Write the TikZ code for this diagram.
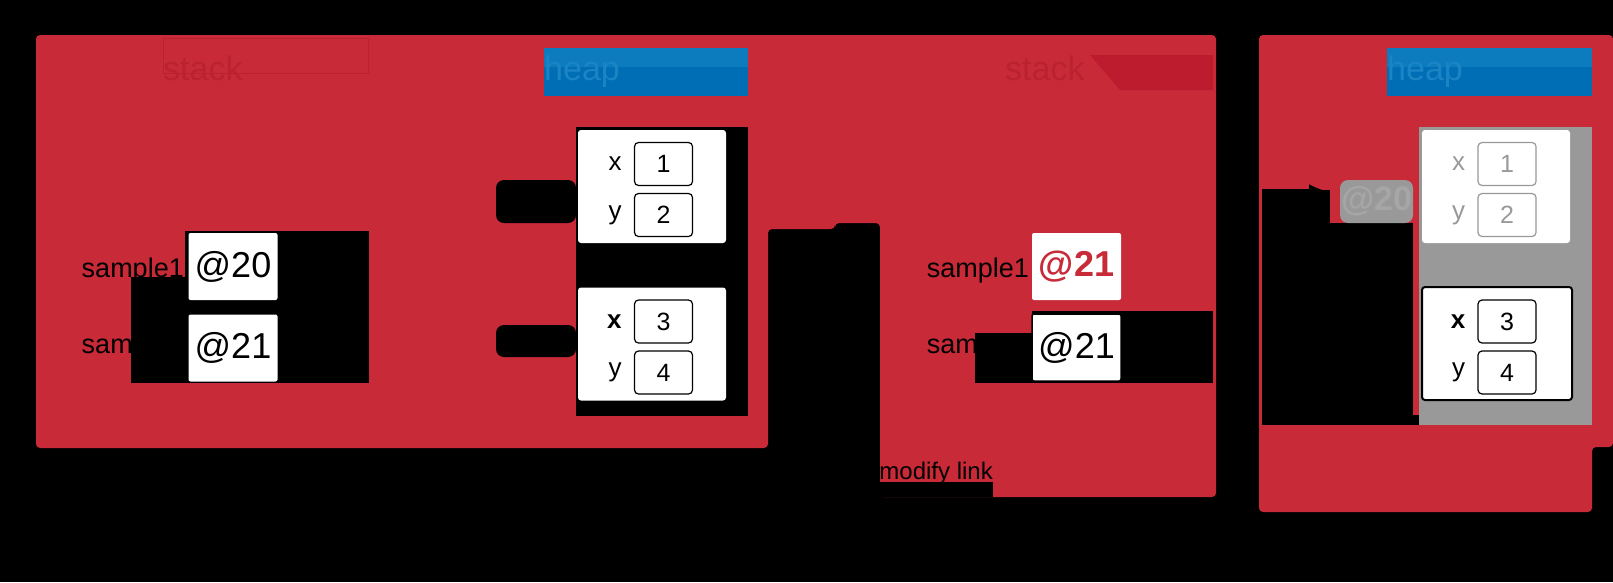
\documentclass[tikz,border=0pt]{standalone}
\usepackage{fontspec}
\setmainfont{Liberation Sans}
\usetikzlibrary{positioning}

\definecolor{panelred}{RGB}{200,42,56}
\definecolor{deepred}{RGB}{188,28,46}
\definecolor{ghostred}{RGB}{186,34,48}
\definecolor{heapblue}{RGB}{0,110,181}
\definecolor{lightblue}{RGB}{12,124,190}
\definecolor{ghostblue}{RGB}{26,132,196}
\definecolor{garbage}{RGB}{153,153,153}

\begin{document}
\begin{tikzpicture}[x=1pt,y=-1pt,>=latex,
  addr/.style={fill=white,rounded corners=2pt,minimum width=89pt,minimum height=67pt,inner sep=0pt,font=\fontsize{36}{36}\selectfont},
  obj/.style={fill=white,rounded corners=3pt,minimum width=148pt,minimum height=113pt,inner sep=0pt},
  slot/.style={draw,rounded corners=4pt,line width=1.2pt,minimum width=58pt,minimum height=43pt,inner sep=0pt,font=\fontsize{25}{25}\selectfont},
  fld/.style={font=\fontsize{26}{26}\selectfont,inner sep=0pt},
  var/.style={font=\fontsize{27}{27}\selectfont,anchor=base east,inner sep=0pt},
  ref/.style={fill=black,rounded corners=8pt,minimum width=80pt,minimum height=43pt,inner sep=0pt,font=\bfseries\fontsize{34}{34}\selectfont},
  title/.style={font=\fontsize{34}{34}\selectfont,anchor=base west,inner sep=0pt}]
  \useasboundingbox (0,0) rectangle (1613,582);
  \fill[black] (0,0) rectangle (1613,582);

  % panels
  \fill[panelred,rounded corners=4pt] (36,448) -- (36,35) -- (1216,35) -- (1216,497) -- (880,497) -- (880,223) -- (835,223) -- (835,229) -- (768,229) -- (768,448) -- cycle;
  \fill[panelred,rounded corners=4pt] (1259,512) -- (1259,35) -- (1613,35) -- (1613,447) -- (1592,447) -- (1592,512) -- cycle;

  % headers
  \draw[ghostred,line width=0.8pt] (163,38) rectangle (368,73);
  \node[title,text=ghostred] (stackL) at (163,80) {stack};
  \fill[deepred] (1090,55) -- (1213,55) -- (1213,90) -- (1120,90) -- cycle;
  \node[title,text=ghostred] (stackR) at (1005,80) {stack};
  \fill[heapblue] (544,48) rectangle (748,96);
  \fill[lightblue] (544,48) rectangle (748,67);
  \node[title,text=ghostblue] (heapL) at (544,80) {heap};
  \fill[heapblue] (1387,48) rectangle (1592,96);
  \fill[lightblue] (1387,48) rectangle (1592,67);
  \node[title,text=ghostblue] (heapR) at (1387,80) {heap};

  % left stack
  \fill[black] (131,277) rectangle (185,383);
  \fill[black] (185,231) rectangle (369,383);
  \node[var] (s1L) at (184,277) {sample1};
  \node[var] (s2L) at (184,353) {sample2};
  \node[addr] (a1L) at (233,266.5) {@20};
  \node[addr] (a2L) at (233,348) {@21};

  % left heap
  \fill[black] (576,127) rectangle (748,416);
  \node[ref] (r20) at (536,201.5) {@20};
  \node[ref,minimum height=32pt] (r21) at (536,341) {@21};
  \node[obj] (o1L) at (652,186.5) {};
  \node[obj] (o2L) at (652,344) {};
  \node[slot] (x1L) at (663.5,164) {1};
  \node[slot] (y1L) at (663.5,215) {2};
  \node[slot] (x2L) at (663.5,321.5) {3};
  \node[slot] (y2L) at (663.5,372.5) {4};
  \node[fld,left=12pt of x1L] {x};
  \node[fld,left=12pt of y1L] {y};
  \node[fld,left=12pt of x2L] {\textbf{x}};
  \node[fld,left=12pt of y2L] {y};

  % middle
  \node[font=\fontsize{24}{24}\selectfont,anchor=base east,inner sep=0pt] (link) at (993,479) {modify link};
  \fill[black] (880,482) rectangle (993,497);

  % right stack
  \fill[black] (975,333) rectangle (1032,383);
  \fill[black] (1032,311) rectangle (1213,383);
  \node[var] (s1R) at (1029,277) {sample1};
  \node[var] (s2R) at (1029,353) {sample2};
  \node[addr,text=panelred,font=\bfseries\fontsize{36}{36}\selectfont] (a1R) at (1076.5,266.5) {@21};
  \node[addr,draw=black,line width=1.5pt] (a2R) at (1076.5,347.5) {@21};

  % right heap
  \fill[black] (1262,223) rectangle (1413,425);
  \fill[black] (1262,190) rectangle (1330,223);
  \fill[black] (1413,415) rectangle (1573,425);
  \fill[garbage] (1419,127) rectangle (1592,425);
  \node[ref,fill=garbage,text=gray!70,minimum width=73pt] (g20) at (1376.5,201.5) {@20};
  \coordinate (fromR) at (1262,192);
  \draw[->,line width=6pt,shorten >=10pt] (fromR) -- (g20.west |- fromR);
  \node[obj] (o1R) at (1496,186.5) {};
  \node[obj,draw=black,line width=2pt,minimum width=150pt] (o2R) at (1497,343.5) {};
  \node[slot,draw=garbage,text=garbage] (x1R) at (1507,164) {1};
  \node[slot,draw=garbage,text=garbage] (y1R) at (1507,215) {2};
  \node[slot] (x2R) at (1507,321.5) {3};
  \node[slot] (y2R) at (1507,372.5) {4};
  \node[fld,text=garbage,left=12pt of x1R] {x};
  \node[fld,text=garbage,left=12pt of y1R] {y};
  \node[fld,left=12pt of x2R] {\textbf{x}};
  \node[fld,left=12pt of y2R] {y};
\end{tikzpicture}
\end{document}
